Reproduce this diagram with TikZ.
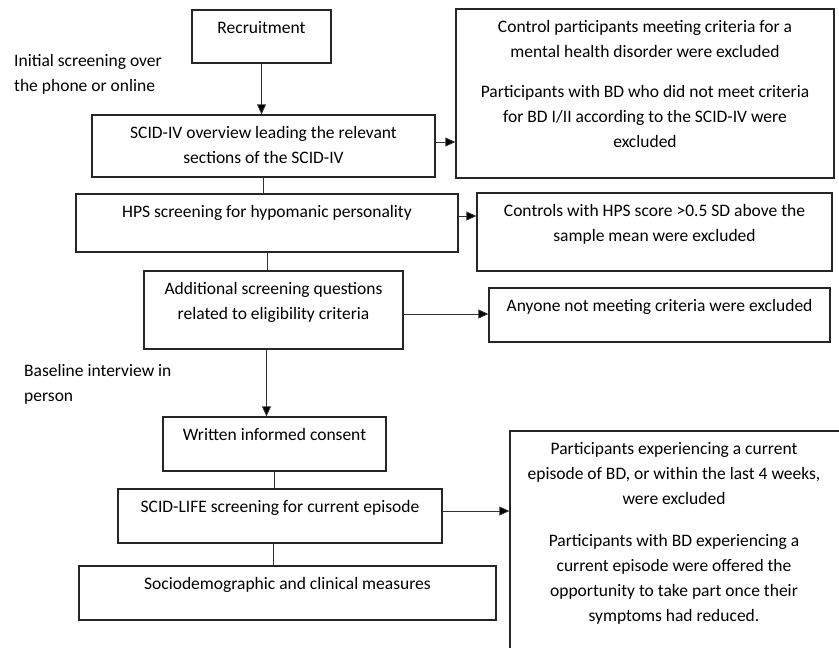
\documentclass[tikz,border=0pt]{standalone}
\usepackage{fontspec}
\setmainfont{Carlito}
\usetikzlibrary{arrows.meta}

\begin{document}
\begin{tikzpicture}[x=1pt, y=-1pt, font=\fontsize{17.5}{25}\selectfont]
    % Define styles for boxes, their texts and the links
    \tikzset{stage/.style={draw=black!85, line width=1.3pt, inner sep=0pt},
             caption/.style={anchor=north, align=center, yshift=-12pt, inner sep=0pt},
             note/.style={anchor=north west, align=left, inner sep=0pt},
             link/.style={draw=black!80, line width=0.8pt},
             flow/.style={link, -{Triangle[length=10pt, width=9pt, fill=black]}}}

    \clip (0,0) rectangle (839,648);

    % LEFT COLUMN: screening steps
    \node[stage, minimum width=139pt, minimum height=53pt,
          label={[caption]north:Recruitment}] (recruit) at (261.5,36.5) {};
    \node[stage, minimum width=343pt, minimum height=62pt,
          label={[caption]north:{SCID-IV overview leading the relevant\\sections of the SCID-IV}}] (scidiv) at (263.5,146) {};
    \node[stage, minimum width=382pt, minimum height=58pt,
          label={[caption]north:HPS screening for hypomanic personality}] (hps) at (267,223) {};
    \node[stage, minimum width=259pt, minimum height=78pt,
          label={[caption]north:{Additional screening questions\\related to eligibility criteria}}] (extra) at (273.5,310) {};
    \node[stage, minimum width=223pt, minimum height=54pt,
          label={[caption]north:Written informed consent}] (consent) at (274.5,444) {};
    \node[stage, minimum width=324pt, minimum height=54pt,
          label={[caption]north:SCID-LIFE screening for current episode}] (scidlife) at (280,516) {};
    \node[stage, minimum width=417pt, minimum height=54pt,
          label={[caption]north:Sociodemographic and clinical measures}] (socio) at (287.5,593) {};

    % RIGHT COLUMN: exclusions
    \node[stage, minimum width=378pt, minimum height=169pt,
          label={[caption]north:{Control participants meeting criteria for a\\mental health disorder were excluded\\[15pt]
                 Participants with BD who did not meet criteria\\for BD I/II according to the SCID-IV were\\excluded}}] (excl_scid) at (645,93.5) {};
    \node[stage, minimum width=355pt, minimum height=78pt,
          label={[caption]north:{Controls with HPS score >0.5 SD above the\\sample mean were excluded}}] (excl_hps) at (654.5,232) {};
    \node[stage, minimum width=341pt, minimum height=54pt,
          label={[caption]north:Anyone not meeting criteria were excluded}] (excl_extra) at (659.5,315) {};
    \node[stage, minimum width=340pt, minimum height=239pt,
          label={[caption, xshift=-6pt]north:{Participants experiencing a current\\episode of BD, or within the last 4 weeks,\\were excluded\\[17pt]
                 Participants with BD experiencing a\\current episode were offered the\\opportunity to take part once their\\symptoms had reduced.}}] (excl_life) at (680,550.5) {};

    % Phase notes
    \node[note] (phone) at (14,54) {Initial screening over\\the phone or online};
    \node[note] (person) at (24,364) {Baseline interview in\\person};

    % Links down the column
    \draw[flow] (recruit.south) -- (recruit.south |- scidiv.north);
    \draw[link] (scidiv.south) -- (scidiv.south |- hps.north);
    \draw[link] (hps.south) -- (hps.south |- extra.north);
    \draw[flow] ([xshift=-7pt]extra.south) -- ([xshift=-7pt]extra.south |- consent.north);
    \draw[link] (consent.south) -- (consent.south |- scidlife.north);
    \draw[link] ([xshift=-7pt]scidlife.south) -- ([xshift=-7pt]scidlife.south |- socio.north);

    % Links to the exclusions
    \draw[flow] ([yshift=4pt]scidiv.east) -- ([yshift=4pt]scidiv.east -| excl_scid.west);
    \draw[flow] ([yshift=7pt]hps.east) -- ([yshift=7pt]hps.east -| excl_hps.west);
    \draw[flow] ([yshift=-4pt]extra.east) -- ([yshift=-4pt]extra.east -| excl_extra.west);
    \draw[flow] ([yshift=5pt]scidlife.east) -- ([yshift=5pt]scidlife.east -| excl_life.west);

\end{tikzpicture}
\end{document}
